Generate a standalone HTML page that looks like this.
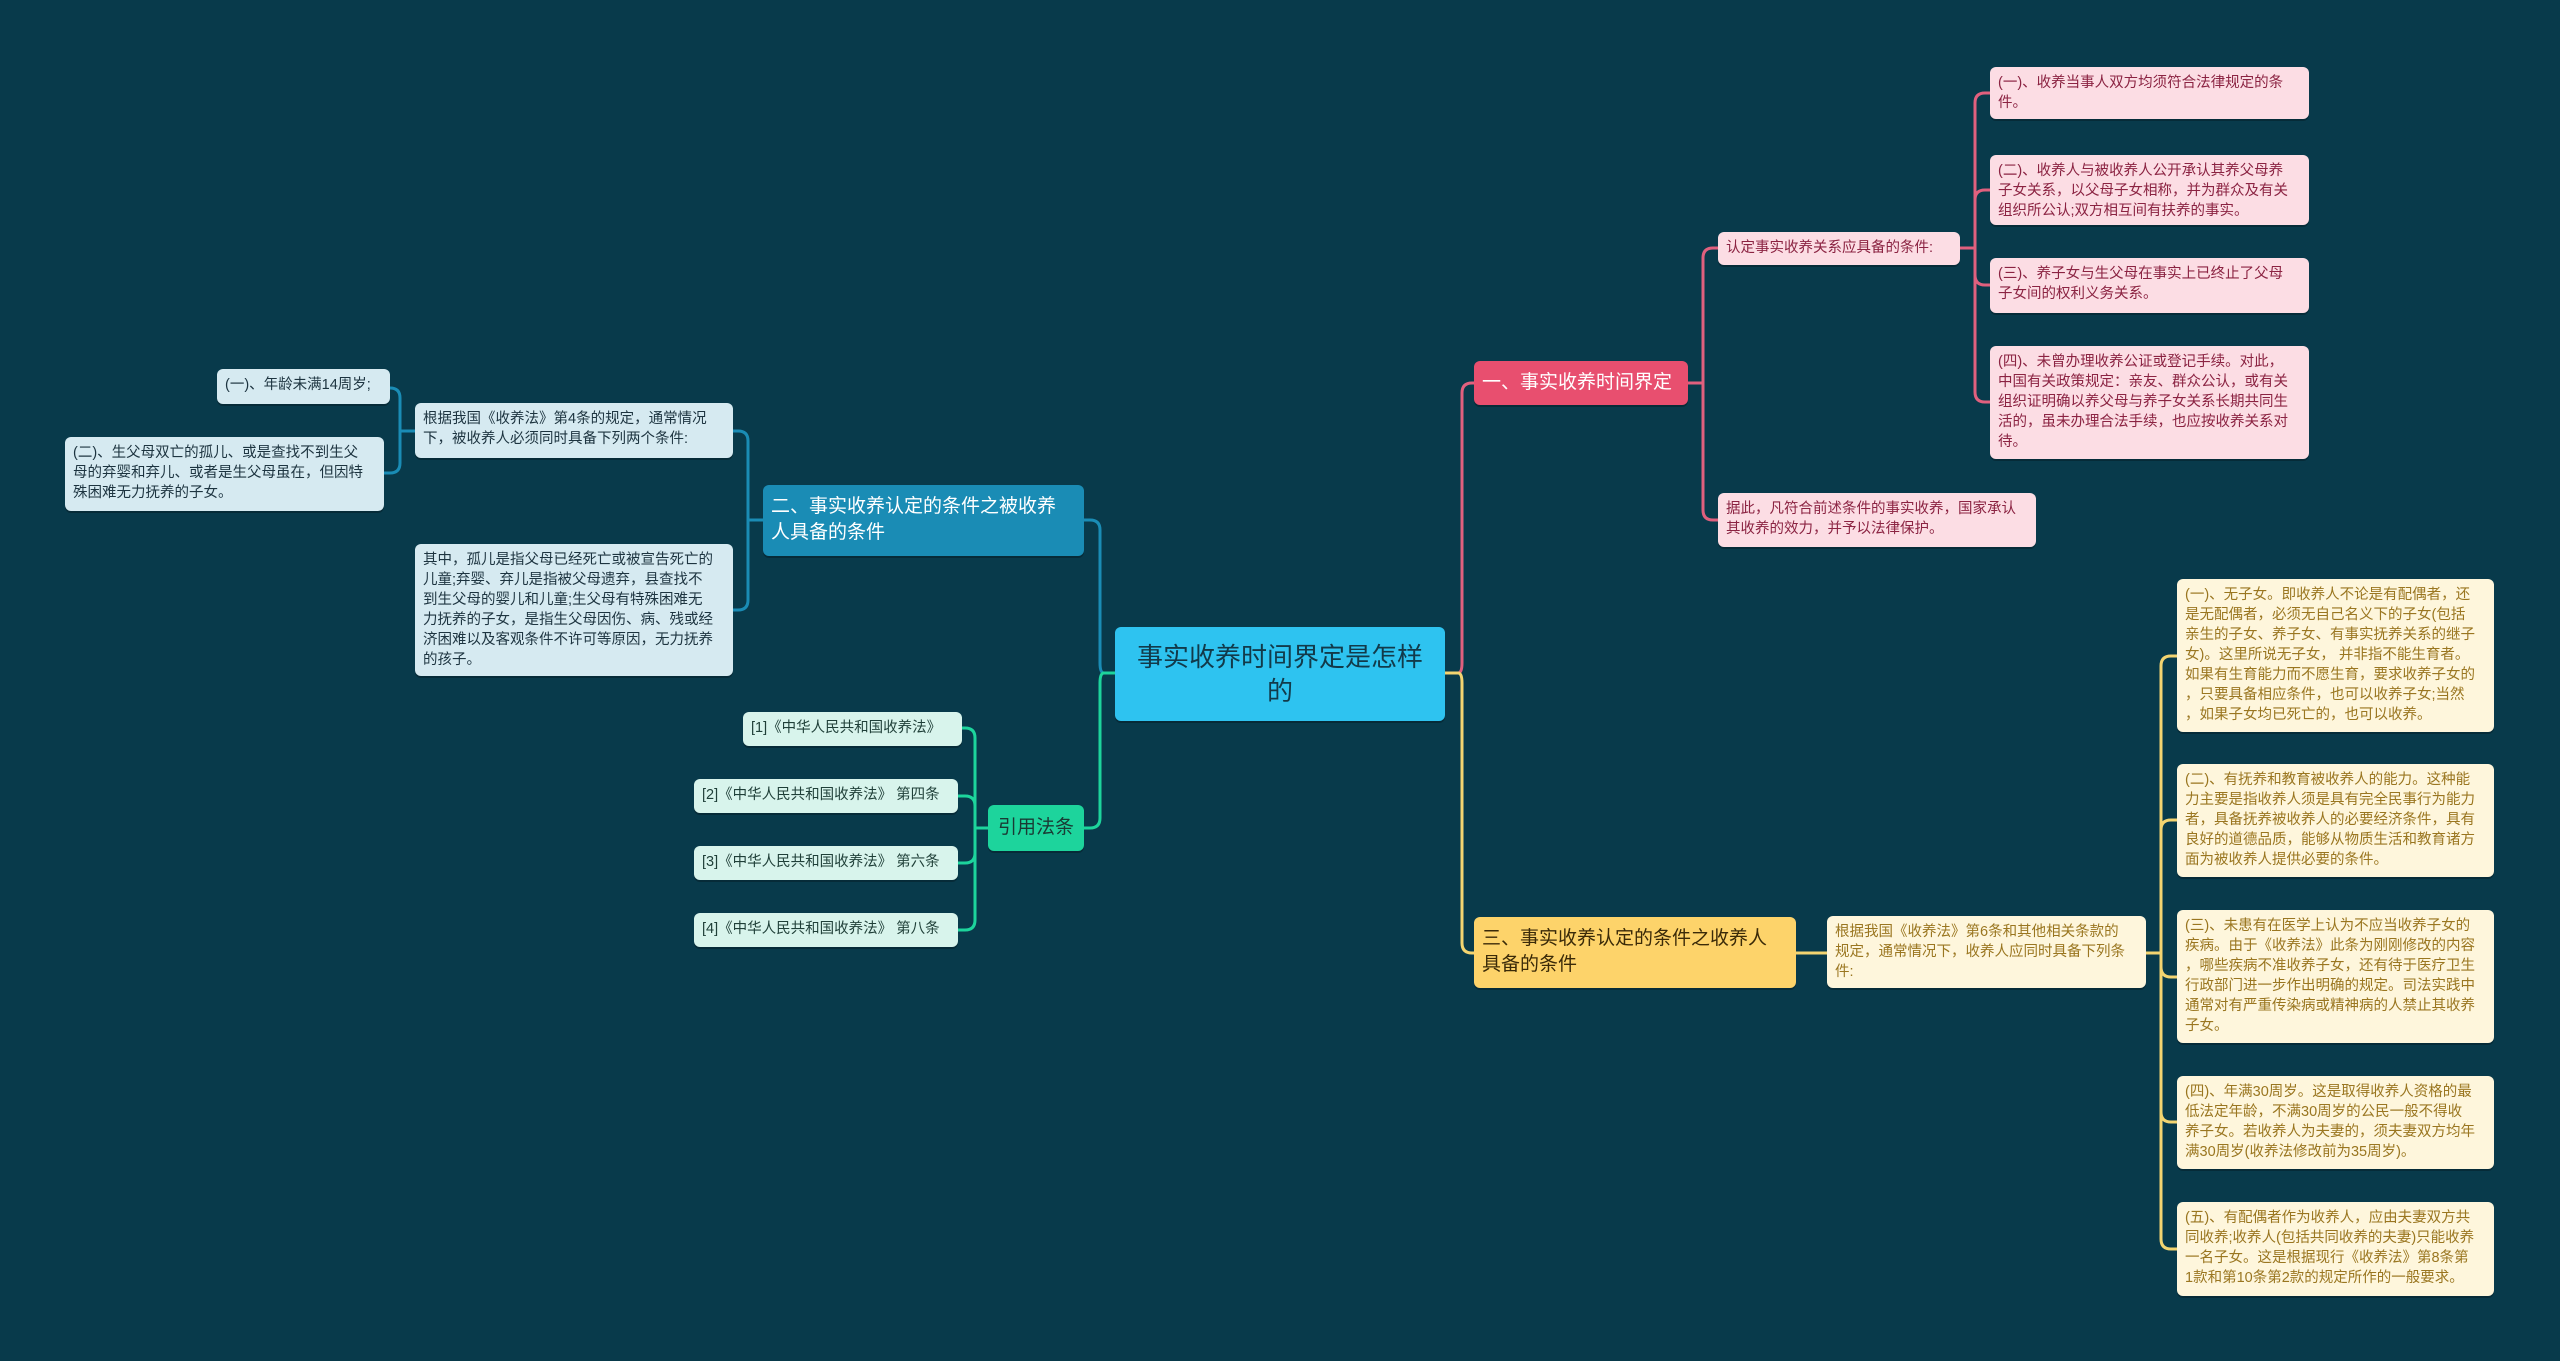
<!DOCTYPE html>
<html><head><meta charset="utf-8"><style>
html,body{margin:0;padding:0}
body{width:2560px;height:1361px;background:#083a4b;position:relative;overflow:hidden;font-family:"Liberation Sans","Noto Sans CJK SC",sans-serif}
.n{position:absolute;box-sizing:border-box;border-radius:6px;white-space:nowrap;font-size:14.5px;line-height:20px;padding:6px 8px;box-shadow:0 2px 0 rgba(0,0,0,0.25)}
.p{background:#fcdde4;color:#8b2342}
.y{background:#fef6dc;color:#9a7620}
.b{background:#d6eaf1;color:#1d3440}
.g{background:#d8f4ec;color:#1f3f38}
svg{position:absolute;left:0;top:0}
</style></head><body>
<svg width="2560" height="1361" fill="none" stroke-width="3">
<g stroke="#e0607e">
<path d="M1445 673 H1458 Q1462 673 1462 663 V393 Q1462 383 1472 383 H1474"/>
<path d="M1688 383 H1703 V258 Q1703 248 1713 248 H1718"/>
<path d="M1703 383 V510 Q1703 520 1713 520 H1718"/>
<path d="M1960 248 H1975 V103 Q1975 93 1985 93 H1990"/>
<path d="M1975 248 V200 Q1975 190 1985 190 H1990"/>
<path d="M1975 248 V275 Q1975 285 1985 285 H1990"/>
<path d="M1975 248 V392 Q1975 402 1985 402 H1990"/>
</g>
<g stroke="#f3d470">
<path d="M1445 673 H1458 Q1462 673 1462 683 V943 Q1462 953 1472 953 H1474"/>
<path d="M1796 953 H1827"/>
<path d="M2146 953 H2161 V666 Q2161 656 2171 656 H2177"/>
<path d="M2161 953 V830 Q2161 820 2171 820 H2177"/>
<path d="M2161 953 V967 Q2161 977 2171 977 H2177"/>
<path d="M2161 953 V1112 Q2161 1122 2171 1122 H2177"/>
<path d="M2161 953 V1239 Q2161 1249 2171 1249 H2177"/>
</g>
<g stroke="#1a8cb5">
<path d="M1115 673 H1104 Q1100 673 1100 663 V530 Q1100 520 1090 520 H1084"/>
<path d="M763 520 H748 V441 Q748 431 738 431 H733"/>
<path d="M748 520 V600 Q748 610 738 610 H733"/>
<path d="M415 431 H400 V398 Q400 388 390 388"/>
<path d="M400 431 V463 Q400 473 390 473 H384"/>
</g>
<g stroke="#1dd49c">
<path d="M1115 673 H1104 Q1100 673 1100 683 V818 Q1100 828 1090 828 H1084"/>
<path d="M988 828 H975 V738 Q975 728 965 728 H962"/>
<path d="M975 828 V806 Q975 796 965 796 H958"/>
<path d="M975 828 V853 Q975 863 965 863 H958"/>
<path d="M975 828 V920 Q975 930 965 930 H958"/>
</g>
</svg>

<div class="n" style="left:1115px;top:627px;width:330px;height:94px;background:#2ec3f0;color:#123a4a;font-size:26px;line-height:34px;text-align:center;padding:13px 8px">事实收养时间界定是怎样<br>的</div>

<div class="n" style="left:1474px;top:361px;width:214px;height:44px;background:#e84f6f;color:#fff;font-size:19px;line-height:24px;padding:10px 8px">一、事实收养时间界定</div>
<div class="n p" style="left:1718px;top:232px;width:242px;height:33px">认定事实收养关系应具备的条件:</div>
<div class="n p" style="left:1990px;top:67px;width:319px;height:52px">(一)、收养当事人双方均须符合法律规定的条<br>件。</div>
<div class="n p" style="left:1990px;top:155px;width:319px;height:70px">(二)、收养人与被收养人公开承认其养父母养<br>子女关系，以父母子女相称，并为群众及有关<br>组织所公认;双方相互间有扶养的事实。</div>
<div class="n p" style="left:1990px;top:258px;width:319px;height:55px">(三)、养子女与生父母在事实上已终止了父母<br>子女间的权利义务关系。</div>
<div class="n p" style="left:1990px;top:346px;width:319px;height:113px">(四)、未曾办理收养公证或登记手续。对此，<br>中国有关政策规定：亲友、群众公认，或有关<br>组织证明确以养父母与养子女关系长期共同生<br>活的，虽未办理合法手续，也应按收养关系对<br>待。</div>
<div class="n p" style="left:1718px;top:493px;width:318px;height:54px">据此，凡符合前述条件的事实收养，国家承认<br>其收养的效力，并予以法律保护。</div>

<div class="n" style="left:1474px;top:917px;width:322px;height:71px;background:#fdd36a;color:#3a2a08;font-size:19px;line-height:26px;padding:9px 8px">三、事实收养认定的条件之收养人<br>具备的条件</div>
<div class="n y" style="left:1827px;top:916px;width:319px;height:72px">根据我国《收养法》第6条和其他相关条款的<br>规定，通常情况下，收养人应同时具备下列条<br>件:</div>
<div class="n y" style="left:2177px;top:579px;width:317px;height:153px">(一)、无子女。即收养人不论是有配偶者，还<br>是无配偶者，必须无自己名义下的子女(包括<br>亲生的子女、养子女、有事实抚养关系的继子<br>女)。这里所说无子女，  并非指不能生育者。<br>如果有生育能力而不愿生育，要求收养子女的<br>，只要具备相应条件，也可以收养子女;当然<br>，如果子女均已死亡的，也可以收养。</div>
<div class="n y" style="left:2177px;top:764px;width:317px;height:113px">(二)、有抚养和教育被收养人的能力。这种能<br>力主要是指收养人须是具有完全民事行为能力<br>者，具备抚养被收养人的必要经济条件，具有<br>良好的道德品质，能够从物质生活和教育诸方<br>面为被收养人提供必要的条件。</div>
<div class="n y" style="left:2177px;top:910px;width:317px;height:133px">(三)、未患有在医学上认为不应当收养子女的<br>疾病。由于《收养法》此条为刚刚修改的内容<br>，哪些疾病不准收养子女，还有待于医疗卫生<br>行政部门进一步作出明确的规定。司法实践中<br>通常对有严重传染病或精神病的人禁止其收养<br>子女。</div>
<div class="n y" style="left:2177px;top:1076px;width:317px;height:93px">(四)、年满30周岁。这是取得收养人资格的最<br>低法定年龄，不满30周岁的公民一般不得收<br>养子女。若收养人为夫妻的，须夫妻双方均年<br>满30周岁(收养法修改前为35周岁)。</div>
<div class="n y" style="left:2177px;top:1202px;width:317px;height:94px">(五)、有配偶者作为收养人，应由夫妻双方共<br>同收养;收养人(包括共同收养的夫妻)只能收养<br>一名子女。这是根据现行《收养法》第8条第<br>1款和第10条第2款的规定所作的一般要求。</div>

<div class="n" style="left:763px;top:485px;width:321px;height:71px;background:#1a8cb5;color:#fff;font-size:19px;line-height:26px;padding:9px 8px">二、事实收养认定的条件之被收养<br>人具备的条件</div>
<div class="n b" style="left:415px;top:403px;width:318px;height:55px">根据我国《收养法》第4条的规定，通常情况<br>下，被收养人必须同时具备下列两个条件:</div>
<div class="n b" style="left:415px;top:544px;width:318px;height:132px">其中，孤儿是指父母已经死亡或被宣告死亡的<br>儿童;弃婴、弃儿是指被父母遗弃，县查找不<br>到生父母的婴儿和儿童;生父母有特殊困难无<br>力抚养的子女，是指生父母因伤、病、残或经<br>济困难以及客观条件不许可等原因，无力抚养<br>的孩子。</div>
<div class="n b" style="left:217px;top:369px;width:173px;height:35px">(一)、年龄未满14周岁;</div>
<div class="n b" style="left:65px;top:437px;width:319px;height:74px">(二)、生父母双亡的孤儿、或是查找不到生父<br>母的弃婴和弃儿、或者是生父母虽在，但因特<br>殊困难无力抚养的子女。</div>

<div class="n" style="left:988px;top:805px;width:96px;height:46px;background:#1dd49c;color:#1a3a34;font-size:19px;line-height:26px;padding:10px 10px">引用法条</div>
<div class="n g" style="left:743px;top:712px;width:219px;height:34px">[1]《中华人民共和国收养法》</div>
<div class="n g" style="left:694px;top:779px;width:264px;height:34px">[2]《中华人民共和国收养法》 第四条</div>
<div class="n g" style="left:694px;top:846px;width:264px;height:34px">[3]《中华人民共和国收养法》 第六条</div>
<div class="n g" style="left:694px;top:913px;width:264px;height:34px">[4]《中华人民共和国收养法》 第八条</div>
</body></html>
